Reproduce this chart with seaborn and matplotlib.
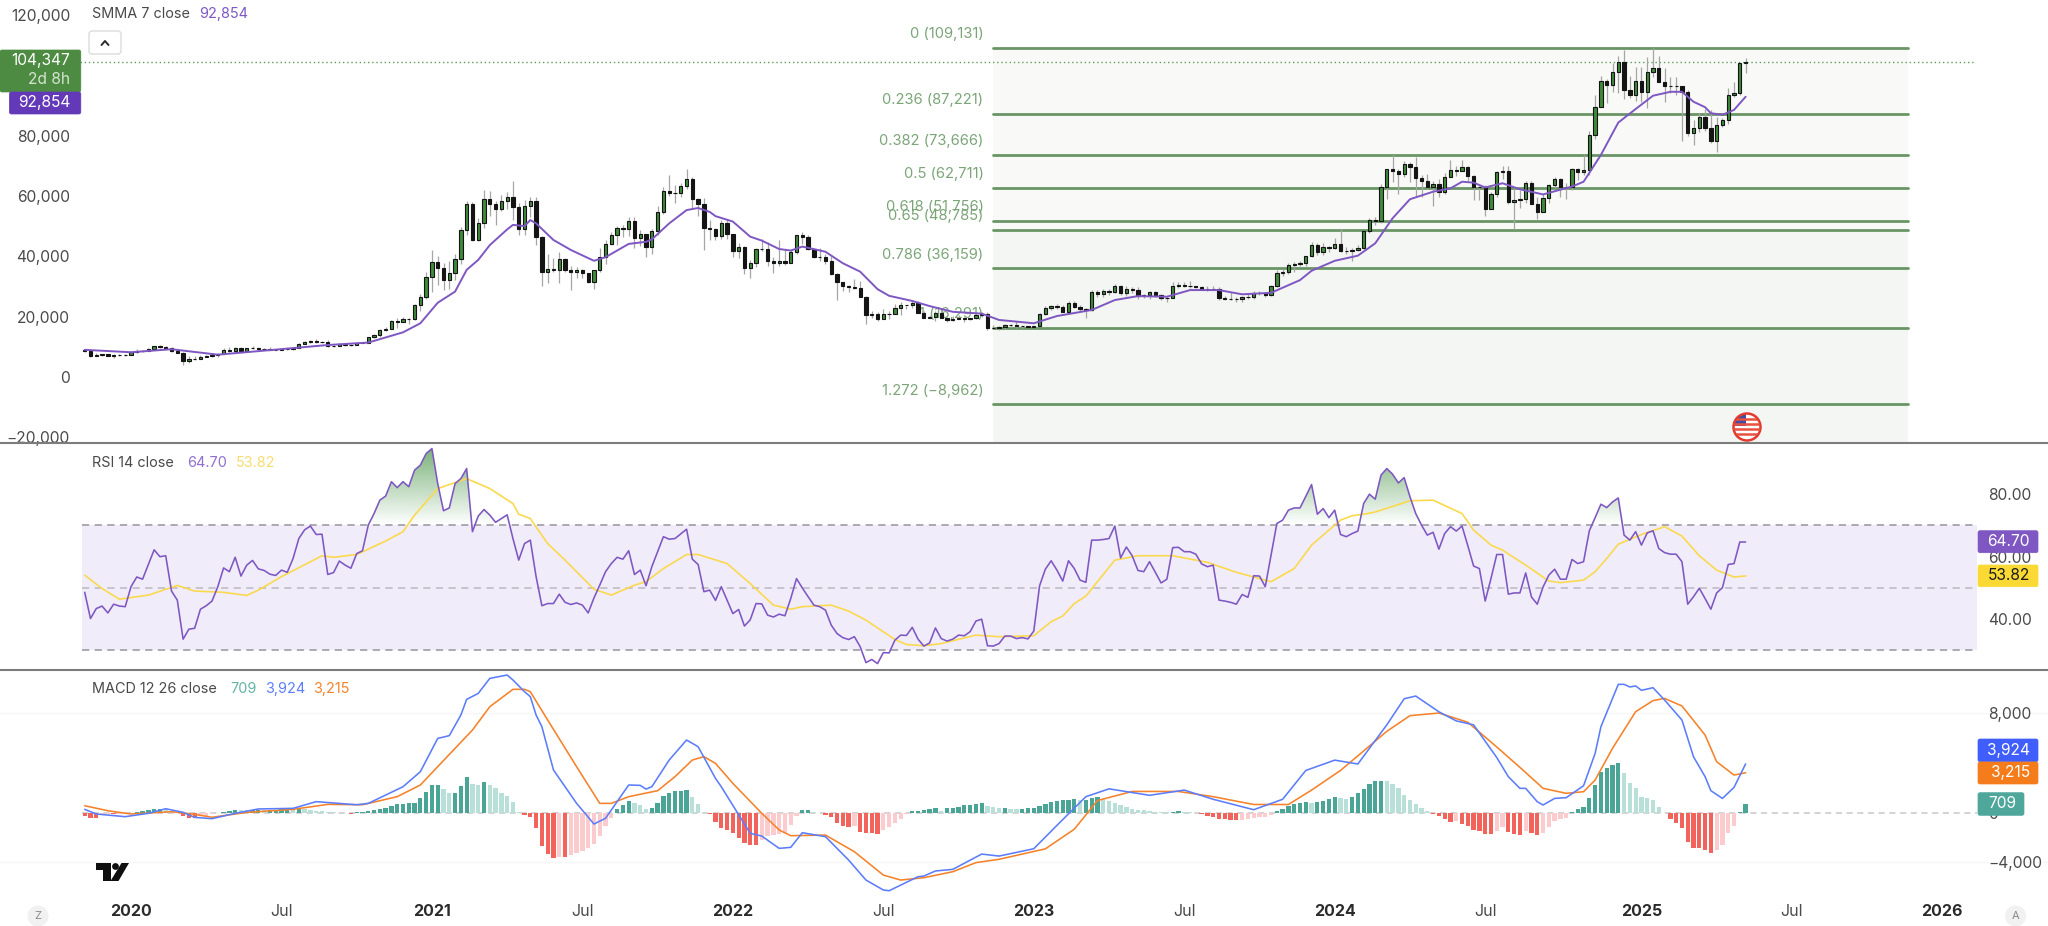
import numpy as np
import pandas as pd
import seaborn as sns
import matplotlib
matplotlib.use('Agg')
import matplotlib.pyplot as plt
import matplotlib.dates as mdates
from matplotlib.patches import Rectangle, Circle, Polygon, FancyBboxPatch
from matplotlib.path import Path

# weekly candles in thousands of USD, first week 2019-11-11
first_open = 9.04
close_2019 = [8.5, 7.05, 7.4, 7.5, 7.1, 7.15, 7.25, 7.35]
high_2019 = [9.3, 8.6, 7.85, 7.75, 7.6, 7.5, 7.7, 7.5]
low_2019 = [8.35, 6.6, 6.85, 7.1, 7.05, 6.45, 7.1, 6.85]
close_2020 = [8.18, 8.7, 8.6, 9.3, 10.15, 9.9, 9.66, 8.55, 8.03, 5.2, 5.82, 5.88, 6.78, 6.86, 7.13, 7.54, 8.87,
              8.72, 9.68, 8.73, 9.45, 9.47, 9.32, 9.29, 9.01, 9.07, 9.3, 9.16, 9.7, 11.06, 11.64, 11.85, 11.65,
              11.7, 10.25, 10.33, 10.92, 10.73, 10.67, 11.3, 11.36, 13.11, 13.76, 15.48, 15.96, 18.68, 18.2,
              19.15, 19.17, 23.85, 26.44, 33.0]
high_2020 = [8.45, 9.2, 8.9, 9.55, 10.18, 10.5, 10.3, 9.95, 9.2, 8.2, 6.95, 6.95, 7.2, 7.45, 7.3, 7.8, 9.45,
             10.05, 9.93, 9.9, 9.75, 10.4, 10.0, 9.65, 9.8, 9.3, 9.45, 9.35, 9.8, 11.4, 11.9, 12.1, 12.5,
             11.8, 12.1, 10.5, 11.2, 10.95, 10.95, 11.5, 11.75, 13.35, 14.1, 15.96, 16.45, 18.95, 19.4,
             19.9, 19.5, 24.25, 27.4, 34.8]
low_2020 = [7.3, 8.0, 8.25, 8.5, 9.1, 9.75, 9.3, 8.4, 8.0, 3.85, 4.5, 5.7, 5.85, 6.7, 6.6, 6.75, 7.5,
            8.2, 8.2, 8.7, 8.65, 9.3, 9.1, 8.9, 8.8, 8.9, 9.1, 9.0, 9.1, 9.7, 11.0, 11.15, 11.4,
            11.1, 9.9, 9.85, 10.2, 10.15, 10.4, 10.5, 11.2, 11.4, 12.8, 13.2, 15.1, 15.8, 16.2,
            18.2, 17.6, 19.0, 21.9, 26.0]
close_2021 = [38.15, 36.0, 32.09, 34.3, 39.19, 48.6, 57.4, 45.24, 50.97, 59.0, 57.4, 55.8, 58.3, 59.7, 56.4, 49.1,
              56.6, 58.2, 46.4, 34.8, 35.7, 35.5, 39.1, 35.6, 34.7, 35.3, 34.4, 31.6, 35.5, 39.7, 44.0, 47.0,
              49.3, 49.0, 51.8, 46.0, 47.3, 43.2, 48.3, 54.7, 61.5, 60.9, 61.0, 63.3, 65.5, 58.9, 57.3, 49.5,
              49.2, 46.7, 50.9, 47.4]
high_2021 = [42, 40.1, 37.8, 38.5, 40.9, 49.7, 58.4, 58.0, 52.6, 61.8, 61.7, 58.4, 60.2, 61.2, 64.9, 57.5,
             58.5, 59.5, 59.6, 46.6, 40.8, 39.5, 41.3, 39.5, 36.7, 36.6, 35.9, 34.6, 35.6, 42.6, 45.3, 48.1,
             49.9, 50.5, 52.9, 53.0, 48.8, 47.4, 49.2, 56.6, 62.9, 67.0, 63.7, 64.3, 69.0, 66.3, 59.4, 59.2,
             51.9, 49.5, 51.9, 52.1]
low_2021 = [28, 30.4, 28.8, 29.2, 32.3, 37.4, 47, 44.9, 45, 49.3, 53.3, 50.4, 55, 55.5, 52, 47,
            47, 53, 43.9, 30, 31.1, 34.8, 31, 34.9, 28.8, 32.7, 32.7, 31, 29.3, 34.9, 37.4, 43.8,
            43.9, 46.4, 46.6, 42.8, 43.4, 39.6, 40.8, 47.1, 54, 59.9, 57.8, 59.5, 62.3, 55.6, 53.5, 42,
            45.5, 45.5, 45.6, 45.6]
close_2022 = [41.9, 43.1, 36.2, 37.9, 42.4, 42.3, 38.4, 37.7, 38.4, 37.8, 41.3, 46.9, 46.3, 42.3, 39.9, 39.6, 38.5,
              34.0, 31.4, 30.2, 29.7, 29.6, 26.6, 20.6, 21.0, 19.3, 20.8, 21.0, 22.8, 23.9, 23.9, 24.4, 21.3,
              19.6, 19.9, 21.2, 19.6, 18.9, 19.2, 19.4, 19.3, 19.4, 20.6, 21.0, 16.1, 16.3, 16.5, 17.1,
              17.1, 16.8, 16.8, 16.6]
high_2022 = [47.5, 44.4, 43.5, 38.9, 42.6, 45.8, 44.7, 39.9, 45.4, 42.5, 42.3, 47, 48.2, 47, 41.5, 42.9, 40.8,
             40, 34.3, 31.4, 30.6, 32.4, 31.7, 26.9, 22, 21.5, 22.4, 21.9, 24.3, 24.7, 23.4, 25.2, 25.2,
             21.8, 20.5, 21.8, 22.8, 19.9, 20.2, 20.5, 20, 19.7, 21, 21.5, 21.5, 17.2, 16.8, 17.4,
             17.4, 18.4, 17, 16.9]
low_2022 = [39.6, 39.3, 34, 32.9, 36.3, 41.7, 36.8, 34.3, 36.8, 37.2, 37.7, 40.9, 44.2, 42.1, 39.3, 38.5, 37.6,
            33.7, 25.4, 28.6, 28, 29.3, 26.6, 17.6, 19.6, 18.6, 19.3, 19.2, 20.8, 20.7, 22.5, 22.7, 21.3,
            19.5, 19.5, 18.5, 19.4, 18.1, 18.5, 19.1, 18.2, 18.9, 19.2, 20, 15.6, 15.8, 15.5, 16,
            16.7, 16.3, 16.3, 16.3]
close_2023 = [16.9, 20.9, 22.7, 23.4, 23.3, 21.6, 24.5, 23.2, 22.4, 22.2, 28.3, 27.5, 28.4, 28.3, 30.2, 27.7, 29.2,
              28.8, 26.9, 27.1, 28.1, 27.1, 26.1, 26.3, 30.3, 30.5, 30.2, 30.3, 29.9, 29.3, 29.0, 29.3, 26.1,
              26.0, 25.9, 25.9, 26.5, 26.5, 27.9, 27.9, 27.2, 30.0, 34.5, 34.7, 37.1, 37.4, 37.7, 40.0,
              43.6, 41.3, 43.1, 42.6]
high_2023 = [17.0, 21.3, 23.4, 23.8, 24.2, 23.9, 25.2, 25.3, 23.9, 22.8, 28.9, 28.9, 29.2, 29.0, 30.9, 30.5, 30.0,
             29.8, 29.8, 27.6, 28.4, 28.5, 27.4, 26.8, 31.4, 31.4, 31.4, 31.8, 30.3, 30.3, 30.0, 30.2, 29.7,
             26.8, 28.1, 26.4, 26.9, 27.4, 28.6, 28.6, 28.3, 30.4, 35.3, 35.9, 37.9, 38.0, 38.4, 40.2,
             44.7, 44.4, 44.3, 43.5]
low_2023 = [16.5, 17.2, 20.4, 22.3, 22.5, 21.5, 21.4, 22.8, 21.9, 19.6, 21.9, 26.6, 26.5, 27.2, 27.8, 27.1, 26.9,
            27.7, 26.0, 26.3, 26.0, 26.6, 25.4, 24.8, 26.3, 29.5, 29.9, 29.5, 29.6, 29.1, 28.6, 28.7, 25.4,
            25.4, 25.4, 24.9, 25.0, 26.0, 26.0, 27.2, 26.5, 26.8, 29.8, 33.4, 34.1, 34.8, 36.8, 36.7,
            39.9, 40.5, 40.5, 41.5]
close_2024 = [44.0, 41.7, 41.8, 42.0, 42.8, 48.3, 52.0, 51.7, 62.9, 69.0, 68.4, 67.2, 70.5, 69.5, 65.8, 64.9, 63.0,
              64.0, 61.4, 66.3, 68.6, 68.3, 69.5, 66.6, 63.0, 62.8, 55.8, 60.7, 68.0, 68.3, 58.1, 58.6, 59.0,
              64.2, 57.3, 54.8, 59.2, 63.5, 65.5, 62.9, 62.9, 69.0, 68.0, 68.5, 80.3, 89.6, 98.0, 96.6,
              101.2, 104.3, 95.1, 93.5, 98.2]
high_2024 = [45.9, 49.1, 43.2, 42.8, 43.9, 48.5, 52.8, 52.9, 64.0, 69.0, 73.7, 68.9, 71.6, 71.3, 72.8, 66.9, 67.2,
             64.8, 65.5, 67.5, 71.9, 70.0, 71.9, 70.0, 66.9, 63.3, 63.7, 61.3, 68.4, 69.9, 70.0, 62.7, 61.8,
             65.0, 65.0, 59.8, 60.6, 64.1, 66.4, 66.0, 64.4, 69.4, 69.4, 73.6, 81.5, 93.4, 99.8, 98.9,
             104.1, 106.5, 108.3, 99.9, 102.7]
low_2024 = [42.5, 41.5, 40.6, 38.5, 41.9, 42.3, 47.7, 50.5, 50.9, 59.0, 64.5, 60.8, 66.4, 64.6, 59.9, 59.7, 62.4,
            56.5, 59.6, 60.7, 66.6, 66.7, 68.4, 64.9, 58.6, 58.5, 53.5, 56.0, 59.6, 65.5, 57.3, 49.1, 56.1,
            57.8, 57.2, 52.5, 54.6, 57.5, 62.7, 59.8, 58.9, 62.0, 65.3, 66.8, 66.8, 78.9, 89.4, 90.8,
            94.5, 94.2, 92.2, 92.5, 91.3]
close_2025 = [94.4, 101.2, 102.5, 97.6, 96.5, 96.4, 96.3, 94.3, 80.7, 82.5, 86.0, 82.4, 78.3, 83.6, 85.2, 93.5, 94.2,
              103.9, 104.347]
high_2025 = [102.6, 106.0, 109.1, 106.5, 102.5, 99.5, 99.5, 96.2, 95.0, 85.3, 87.5, 88.8, 88.5, 86.2, 85.9, 95.7,
             97.9, 104.2, 105.8]
low_2025 = [91.2, 89.2, 99.5, 97.7, 91.2, 94.1, 93.4, 78.1, 80.0, 77.0, 81.2, 81.6, 77.4, 74.7, 83.0, 83.9, 92.8,
            93.4, 100.7]

# SMMA 7, read at the bends of the line (week number from the first candle)
smma_week = [0, 8, 15, 23, 32, 42, 49, 55, 58, 61, 64, 66, 68, 70, 73, 74, 76, 77, 78, 81, 84, 88, 90, 94, 97, 98,
             101, 104, 106, 108, 109, 112, 115, 117, 120, 122, 124, 125, 128, 131, 134, 137, 139, 143, 146, 150,
             155, 158, 164, 168, 174, 178, 182, 187, 191, 196, 200, 205, 210, 212, 216, 220, 223, 226, 229, 233,
             236, 238, 240, 242, 245, 248, 252, 257, 259, 262, 265, 268, 271, 274, 276, 278, 280, 281, 283, 285, 287]
smma_val = [9.0, 8.2, 9.2, 7.4, 8.9, 10.6, 11.4, 14.8, 17.8, 24.6, 28.3, 35.5, 38.8, 43.7, 48.9, 50.4, 50.0, 52.0,
            50.9, 45.4, 42.1, 38.5, 39.7, 44.1, 44.8, 45.6, 50.9, 55.3, 56.0, 54.7, 53.3, 51.5, 46.5, 45.2, 42.4,
            41.9, 43.2, 42.8, 41.5, 37.7, 34.9, 29.1, 26.9, 25.2, 23.5, 21.6, 21.0, 18.9, 17.8, 20.2, 22.2, 25.5,
            26.8, 26.6, 28.8, 28.8, 27.4, 27.9, 32.1, 35.2, 38.5, 40.2, 44.3, 52.6, 58.9, 61.4, 62.5, 64.7, 64.4,
            62.8, 64.2, 62.2, 60.5, 63.1, 64.7, 73.6, 84.3, 88.8, 93.2, 94.5, 94.5, 91.2, 89.4, 87.4, 86.9, 88.5, 92.854]

rsi_val = [48.6, 40.2, 43.4, 44.2, 42, 44.8, 44.2, 44, 50.4, 53.5,
           52.8, 57.5, 62.2, 60, 60.3, 49, 46.1, 33.6, 36.8, 37.1,
           43.2, 44.3, 45.8, 50.4, 56.4, 55.2, 59.8, 53.8, 57.3, 58.8,
           56.1, 55.6, 54.4, 54, 55.7, 55, 59.4, 65.8, 68.6, 69.8,
           67.1, 67.2, 54.3, 54.9, 58.6, 57.3, 56.3, 61, 61.9, 70.1,
           73.8, 78.1, 79.4, 84, 82.1, 84, 82.4, 87.7, 89.3, 93,
           94.6, 83.4, 74.7, 75.6, 83.4, 85, 88.2, 68, 73, 75.1,
           73.3, 71, 72.2, 73.4, 65.8, 58.9, 64.2, 65.3, 53.6, 44.3,
           45, 45, 48, 45.4, 44.7, 45.2, 44.5, 42, 46.8, 50.9,
           55.2, 57.8, 59.8, 59.2, 61.9, 54.3, 55.7, 50.7, 56.8, 61.6,
           66.4, 65.6, 65.8, 67.3, 68.8, 59.2, 57.5, 48.8, 49.3, 46,
           50.4, 46.1, 41.8, 43.1, 37.8, 39.8, 45, 44.9, 41.3, 40.7,
           41.6, 41.1, 46.6, 53, 50, 47.2, 44.5, 44, 42.9, 38.1,
           35.4, 34.1, 33.5, 34.4, 31.2, 26.1, 27.1, 25.8, 29.3, 29.2,
           33.3, 34.9, 34.8, 37.4, 33.6, 31.4, 32.4, 37.2, 33.8, 33,
           33.6, 34.9, 34.7, 36, 39.4, 40, 31.5, 31.4, 32.2, 34.6,
           34.6, 33.8, 34.1, 33.7, 36.2, 50.7, 56, 58.7, 55.7, 52.2,
           58.7, 56.2, 52.5, 51.8, 65.3, 65.3, 65.5, 65.8, 69.8, 59.6,
           63.1, 60.3, 55.6, 55.2, 58.4, 55, 51.6, 52.8, 62.9, 63,
           61.6, 61.6, 60.8, 57.7, 56.8, 57.3, 46.1, 45.8, 45.4, 44.8,
           47.9, 47, 53.9, 53.8, 50.4, 60.5, 70.6, 71.7, 74.9, 75.6,
           75.6, 79.3, 83.1, 73.6, 75.4, 72.5, 74.9, 67.1, 66.4, 67.4,
           68.2, 77, 80, 78.4, 86.1, 88.2, 86.4, 83.6, 85.3, 79.2,
           73.8, 70.1, 66.9, 67.8, 62.4, 67.4, 69.6, 68.2, 69.8, 63.5,
           57, 56.2, 45.8, 53, 60.7, 60.7, 48, 48.4, 48.4, 54.8,
           47.1, 44.8, 50.3, 54.1, 56, 52.8, 52.8, 59.1, 57.8, 58.4,
           68.3, 72.5, 76.8, 75.7, 77.5, 78.8, 66.9, 65.3, 68, 63.7,
           67.6, 68.3, 62.6, 61.3, 60.8, 60.8, 58.4, 44.8, 47.2, 49.9,
           46.6, 43.2, 48.4, 50.1, 57.5, 57.8, 64.7, 64.7]

rsi_ma_week = [0, 3, 6, 11, 16, 19, 24, 28, 30, 34, 41, 43, 47, 52, 55, 57, 61, 66, 70, 74, 75, 77, 80, 83, 88, 91, 95,
               97, 100, 104, 106, 111, 115, 119, 122, 124, 129, 132, 135, 140, 142, 145, 148, 154, 158, 164, 167, 169,
               171, 173, 178, 182, 188, 194, 199, 205, 209, 212, 217, 219, 221, 223, 229, 233, 238, 240, 243, 245, 249,
               253, 255, 259, 261, 263, 265, 269, 273, 276, 279, 282, 285, 287]
rsi_ma_val = [54.1, 49.8, 46.4, 47.7, 50.8, 49, 48.6, 47.6, 49.3, 53.6, 60.3, 59.8, 60.7, 65, 68, 73.3, 81.8, 85, 81.8,
              77, 73.6, 72.2, 64.2, 58.9, 49.6, 47.7, 50.9, 52, 56.2, 60.7, 60.7, 57.8, 51.4, 44.5, 43.2, 44, 44.5,
              42.6, 39.7, 33.5, 31.9, 31.5, 32.2, 34.9, 34.4, 34.7, 39.2, 41, 45, 47.4, 58.9, 60.3, 60.3, 58.2, 55,
              52, 56.2, 63.7, 71.7, 73.1, 73.6, 74.3, 77.9, 78.1, 73.8, 68.5, 63.7, 62.1, 57.3, 52.2, 51.7, 52.5,
              55.2, 59.4, 64, 67.1, 69.6, 66.6, 60.3, 55.7, 53.5, 53.82]

macd_week = [0, 2, 7, 11, 14, 17, 19, 22, 26, 30, 36, 40, 47, 49, 55, 58, 61, 63, 65, 66, 68, 70, 73, 74, 76, 77, 78,
             79, 81, 85, 88, 90, 94, 96, 97, 98, 101, 104, 106, 109, 110, 115, 117, 120, 122, 124, 128, 132, 135, 138,
             139, 144, 145, 147, 150, 155, 158, 164, 168, 173, 177, 184, 190, 195, 202, 207, 211, 216, 220, 225, 228,
             230, 234, 237, 240, 244, 246, 248, 249, 251, 252, 254, 256, 259, 261, 262, 265, 266, 267, 268, 269, 271,
             273, 276, 278, 280, 281, 283, 285, 287]
macd_val = [270, -105, -320, -50, 320, 30, -375, -480, -50, 300, 350, 890, 640, 750, 2090, 3300, 5980, 6200, 7860, 9120,
            9600, 10810, 11080, 10680, 9740, 9340, 7860, 6920, 3440, 750, -910, -450, 2230, 2200, 1900, 2090, 4240,
            5850, 5310, 2760, 2090, -1660, -1880, -2870, -2790, -1610, -1930, -3810, -5420, -6220, -6280, -5150, -5100,
            -4690, -4560, -3330, -3490, -2900, -1020, 1290, 1920, 1400, 1820, 1080, 240, 1080, 3400, 4230, 3920, 7070,
            9170, 9390, 8120, 7390, 7070, 4440, 2900, 1960, 1960, 885, 620, 1150, 1210, 2170, 4780, 6920, 10330, 10330,
            10120, 10200, 9850, 10060, 9070, 7460, 4500, 2900, 1770, 1150, 2040, 3924]
signal_week = [0, 4, 8, 15, 19, 22, 28, 36, 42, 48, 54, 58, 64, 67, 70, 74, 76, 77, 80, 85, 89, 91, 94, 99, 102, 105, 107,
               109, 112, 117, 120, 122, 128, 133, 138, 141, 145, 150, 154, 158, 166, 171, 175, 181, 189, 195, 202, 208,
               212, 217, 221, 225, 229, 234, 239, 244, 248, 252, 256, 259, 261, 264, 268, 271, 273, 276, 280, 282, 285, 287]
signal_val = [560, 160, -105, 80, -130, -370, 25, 270, 670, 640, 1290, 2230, 5180, 6650, 8530, 9930, 9930, 9740, 7460, 3700,
              750, 750, 1290, 1770, 2900, 4240, 4510, 3970, 2360, -50, -1390, -1850, -1800, -3140, -5020, -5420, -5230,
              -4750, -4020, -3750, -2910, -1330, 980, 1710, 1710, 1290, 660, 660, 1820, 3400, 4970, 6550, 7810, 8020, 7280,
              5290, 3650, 1960, 1560, 1690, 2630, 5180, 8130, 9020, 9200, 8590, 6250, 4100, 3030, 3215]
hist_val = [-290, -430, -430, -200, -130, -130, -110, -90, -40, 40,
            100, 200, 290, 290, 260, 130, -50, -290, -400, -400,
            -300, -230, -130, -30, 70, 130, 240, 230, 200, 220,
            240, 200, 230, 250, 320, 350, 300, 340, 270, 180,
            140, 100, 50, 20, -10, 10, -130, 40, 60, 120,
            200, 270, 400, 560, 670, 700, 750, 800, 1150, 1690,
            2230, 2240, 1930, 1560, 1610, 2150, 2900, 2330, 2230, 2440,
            2200, 1960, 1560, 1340, 860, 50, -215, -375, -1260, -2660,
            -3330, -3620, -3540, -3540, -3400, -3220, -3060, -2870, -2550, -1880,
            -1070, -450, 300, 620, 940, 750, 590, 270, 350, 800,
            1370, 1610, 1720, 1770, 1850, 1230, 700, -30, -130, -720,
            -1260, -1400, -1660, -2070, -2410, -2600, -2620, -2200, -1850, -1800,
            -1720, -1610, -990, -270, 210, 210, 50, -50, -160, -320,
            -800, -1050, -1180, -1100, -1530, -1610, -1660, -1720, -1400, -1130,
            -860, -540, -110, 130, 160, 210, 300, 350, 160, 400,
            400, 480, 590, 620, 700, 780, 540, 456, 400, 400,
            320, 280, 300, 340, 390, 560, 720, 860, 960, 1020,
            1060, 1100, 1000, 1050, 1200, 1260, 1130, 960, 760, 600,
            430, 330, 230, 180, 120, 90, 60, 30, 90, 110,
            70, 30, -30, -120, -240, -380, -480, -540, -590, -620,
            -570, -500, -420, -370, -310, -190, 120, 330, 540, 690,
            760, 870, 800, 830, 950, 1100, 1230, 1210, 1130, 1250,
            1550, 1900, 2300, 2520, 2570, 2550, 2350, 1950, 1450, 1050,
            720, 400, 100, -100, -300, -480, -720, -680, -900, -1100,
            -1400, -1500, -1700, -1750, -1500, -1130, -1530, -1720, -1820, -1450,
            -1610, -1820, -1610, -1130, -640, -510, -400, 50, 270, 430,
            1210, 2230, 3250, 3570, 3840, 4020, 3220, 2410, 1990, 1230,
            1150, 1020, 480, -50, -540, -800, -1210, -2330, -2870, -2870,
            -3000, -3270, -3000, -2600, -1660, -1050, 30, 709]

fib_ratio = ['0', '0.236', '0.382', '0.5', '0.618', '0.65', '0.786', '1', '1.272']
fib_price = [109131, 87221, 73666, 62711, 51756, 48785, 36159, 16291, -8962]
price_ticks = [-20000, 0, 20000, 40000, 60000, 80000, 100000, 120000]
rsi_ticks = [40, 60, 80]
macd_ticks = [-4000, 0, 8000]
date_ticks = ['2020-01-06', '2020-07-06', '2021-01-04', '2021-07-05', '2022-01-03', '2022-07-04', '2023-01-02',
              '2023-07-03', '2024-01-01', '2024-07-01', '2025-01-06', '2025-07-07', '2026-01-05']
date_labels = ['2020', 'Jul', '2021', 'Jul', '2022', 'Jul', '2023', 'Jul', '2024', 'Jul', '2025', 'Jul', '2026']

PURPLE = '#7e57c2'
YELLOW = '#fbd94e'
BLUE = '#5c7dfb'
ORANGE = '#f5822a'
INK = '#4a4a4a'
W, H = 2048, 926


def minus(text):
    return text.replace('-', '\u2212')


def rsi_gradient(ax, x, y, level, top, rgb, max_alpha):
    # value based fade, clipped to the area between the line and the level
    y = np.asarray(y)
    where = y > level if top > level else y < level
    poly = ax.fill_between(x, level, y, where=where, interpolate=True, color='none', linewidth=0)
    clip = Path.make_compound_path(*poly.get_paths())
    rows = np.linspace(0, 1, 128).reshape(-1, 1)
    rgba = np.zeros((128, 1, 4))
    rgba[..., :3] = matplotlib.colors.to_rgb(rgb)
    rgba[..., 3] = rows * max_alpha
    lo, hi = min(level, top), max(level, top)
    if top < level:
        rgba = rgba[::-1]
    im = ax.imshow(rgba, origin='lower', aspect='auto', extent=[x[0], x[-1], lo, hi], zorder=1)
    im.set_clip_path(clip, transform=ax.transData)


sns.set_theme(style='white')
plt.rcParams['font.family'] = ['Inter', 'DejaVu Sans']
plt.rcParams['axes.unicode_minus'] = True

closes = np.array(close_2019 + close_2020 + close_2021 + close_2022 + close_2023 + close_2024 + close_2025) * 1000
highs = np.array(high_2019 + high_2020 + high_2021 + high_2022 + high_2023 + high_2024 + high_2025) * 1000
lows = np.array(low_2019 + low_2020 + low_2021 + low_2022 + low_2023 + low_2024 + low_2025) * 1000
opens = np.r_[first_open * 1000, closes[:-1]]
assert len(closes) == 288 and len(highs) == 288 and len(lows) == 288
assert len(rsi_val) == 288 and len(hist_val) == 288
assert len(smma_week) == len(smma_val) and len(rsi_ma_week) == len(rsi_ma_val)
assert len(macd_week) == len(macd_val) and len(signal_week) == len(signal_val)

weeks = mdates.date2num(pd.date_range('2019-11-11', periods=288, freq='7D'))
up = closes >= opens

fig = plt.figure(figsize=(W / 100, H / 100), dpi=100, facecolor='white')


def panel(top, bottom):
    ax = fig.add_axes([0, 1 - bottom / H, 1, (bottom - top) / H])
    ax.set_facecolor('none')
    for s in ax.spines.values():
        s.set_visible(False)
    ax.set_xlim(mdates.date2num(pd.Timestamp('2020-01-06')) - 131 / 0.82673,
                mdates.date2num(pd.Timestamp('2020-01-06')) + (W - 131) / 0.82673)
    ax.tick_params(axis='both', length=0)
    ax.grid(False)
    return ax


# price panel
ax_p = panel(0, 443)
ax_p.set_ylim(-21870, 124917)
fx0, fx1 = 992.7 / W, 1908 / W
band_edges = fib_price + [-21870]
for j in range(len(band_edges) - 1):
    ax_p.axhspan(band_edges[j + 1], band_edges[j], xmin=fx0, xmax=fx1, lw=0,
                 color='#f9faf8' if j < 5 else '#f4f6f3', zorder=0)
for ratio, price in zip(fib_ratio, fib_price):
    ax_p.axhline(price, xmin=fx0, xmax=fx1, color='#6a9566', lw=2.0, zorder=1)
    ax_p.annotate(minus(f'{ratio} ({price:,})'), xy=(983.5 / W, price), xycoords=ax_p.get_yaxis_transform(),
                  xytext=(0, 9.6), textcoords='offset points', ha='right', va='center',
                  color='#7ba578', fontsize=10.6, zorder=1)
ax_p.axhline(closes[-1], xmin=80 / W, xmax=1975 / W, color='#5f9c5a', lw=1.0, ls=(0, (1, 2)), zorder=1)
ax_p.vlines(weeks, lows, highs, color='#a6a6a6', lw=0.9, zorder=3)
ax_p.bar(weeks, closes - opens, bottom=opens, width=4.0, color=np.where(up, '#3f8a3a', '#141414'),
         edgecolor='#141414', linewidth=0.8, zorder=4)
sns.lineplot(x=weeks[smma_week], y=np.array(smma_val) * 1000, color=PURPLE, lw=1.4, estimator=None,
             ax=ax_p, zorder=5)
ax_p.set_yticks(price_ticks)
ax_p.set_yticklabels([minus(f'{v:,}') for v in price_ticks], color=INK, fontsize=11.2)
ax_p.tick_params(axis='y', pad=-50.4)
ax_p.set_xticks([])
ax_p.set_xlabel('')
ax_p.set_ylabel('')

# RSI panel
ax_r = panel(443, 670)
ax_r.set_ylim(23.74, 96.38)
bx0, bx1 = 81.6 / W, 1977 / W
ax_r.axhspan(30, 70, xmin=bx0, xmax=bx1, color='#f0ecf9', lw=0, zorder=0)
rsi_gradient(ax_r, weeks, rsi_val, 70, 100, '#3f8f3f', 0.85)
rsi_gradient(ax_r, weeks, rsi_val, 30, 0, '#e57373', 0.6)
ax_r.set_xlim(ax_p.get_xlim())
ax_r.set_ylim(23.74, 96.38)
for level, tone in zip([70, 50, 30], ['#a5a2ab', '#c3c0c9', '#a5a2ab']):
    ax_r.axhline(level, xmin=bx0, xmax=bx1, color=tone, lw=1.3, ls=(0, (4, 3)), zorder=2)
sns.lineplot(x=weeks[rsi_ma_week], y=rsi_ma_val, color=YELLOW, lw=1.2, estimator=None, ax=ax_r, zorder=3)
sns.lineplot(x=weeks, y=rsi_val, color=PURPLE, lw=1.15, estimator=None, ax=ax_r, zorder=4)
ax_r.set_yticks(rsi_ticks)
ax_r.set_yticklabels([f'{v:.2f}' for v in rsi_ticks], color=INK, fontsize=11.2)
ax_r.yaxis.tick_right()
ax_r.tick_params(axis='y', pad=-43.2, length=0)
ax_r.set_xticks([])
ax_r.set_xlabel('')
ax_r.set_ylabel('')

# MACD panel
ax_m = panel(670, 900)
ax_m.set_ylim(-7026, 11485)
for level in [8000, -4000]:
    ax_m.axhline(level, color='#f6f6f6', lw=1, zorder=0)
ax_m.axhline(0, xmin=bx0, xmax=bx1, color='#c8c8c8', lw=1.1, ls=(0, (4, 3)), zorder=1)
hist = np.array(hist_val, dtype=float)
prev = np.r_[hist[0], hist[:-1]]
hist_kind = np.where(hist >= 0, np.where(hist >= prev, 'up', 'up_fade'), np.where(hist <= prev, 'down', 'down_fade'))
sns.barplot(x=weeks, y=hist, hue=hist_kind, native_scale=True, dodge=False, width=0.74, legend=False, saturation=1,
            linewidth=0, palette={'up': '#4ba596', 'up_fade': '#b9dfd9', 'down': '#f2635c', 'down_fade': '#fccbcd'},
            ax=ax_m, zorder=2)
sns.lineplot(x=weeks[signal_week], y=signal_val, color=ORANGE, lw=1.15, estimator=None, ax=ax_m, zorder=3)
sns.lineplot(x=weeks[macd_week], y=macd_val, color=BLUE, lw=1.15, estimator=None, ax=ax_m, zorder=4)
ax_m.set_xlim(ax_p.get_xlim())
ax_m.set_ylim(-7026, 11485)
ax_m.set_yticks(macd_ticks)
ax_m.set_yticklabels([minus(f'{v:,}') for v in macd_ticks], color=INK, fontsize=11.2)
ax_m.yaxis.tick_right()
ax_m.tick_params(axis='y', pad=-43.2, length=0)
ax_m.set_xticks(mdates.date2num(pd.to_datetime(date_ticks)))
ax_m.set_xticklabels(date_labels, fontsize=11.5, color='#2b2b2b')
for tl, name in zip(ax_m.get_xticklabels(), date_labels):
    if name != 'Jul':
        tl.set_fontweight('bold')
    else:
        tl.set_color(INK)
ax_m.tick_params(axis='x', pad=3.0, length=0)
ax_m.set_xlabel('')
ax_m.set_ylabel('')

# overlay in pixels for the tags, legends and logo
ov = fig.add_axes([0, 0, 1, 1], zorder=10)
ov.set_xlim(0, W)
ov.set_ylim(H, 0)
ov.axis('off')
ov.patch.set_alpha(0)
for y in [443, 670]:
    ov.plot([0, W], [y, y], color='#7c7c7c', lw=1.5)


def tag(x0, y0, x1, y1, color, text, tx=None, ha='right', tc='white'):
    ov.add_patch(FancyBboxPatch((x0 + 1, y0 + 1), x1 - x0 - 2, y1 - y0 - 2, boxstyle='round,pad=1,rounding_size=2',
                                fc=color, ec=color, lw=0.5))
    ov.text(tx if tx else x1 - 8, (y0 + y1) / 2, text, color=tc, ha=ha, va='center', fontsize=11.2)


tag(0, 50, 80.8, 92, '#4c8b41', '', tx=70)
ov.text(70.5, 61, f'{closes[-1]:,.0f}', color='white', ha='right', va='center', fontsize=11.2)
ov.text(70.5, 80, '2d 8h', color='#d5e5d2', ha='right', va='center', fontsize=11.2)
tag(9.4, 92, 80.8, 114, '#6439b8', f'{smma_val[-1] * 1000:,.0f}', tx=70.5)
tag(1978, 530.7, 2038, 552.7, '#7e57c2', f'{rsi_val[-1]:.2f}', tx=2030)
tag(1978, 565, 2038, 586.7, '#fbd934', f'{rsi_ma_val[-1]:.2f}', tx=2030, tc='#1a1a1a')
tag(1978, 739, 2038, 761.7, '#3f5efb', f'{macd_val[-1]:,}', tx=2030)
tag(1978, 762, 2038, 784, '#f57c1a', f'{signal_val[-1]:,}', tx=2030)
tag(1978, 792.7, 2024, 815.3, '#4fa79b', f'{hist_val[-1]:,}', tx=1988, ha='left')


def legend(y, title, parts):
    ov.text(92, y, title, color=INK, ha='left', va='center', fontsize=10.4)
    for x, text, color in parts:
        ov.text(x, y, text, color=color, ha='left', va='center', fontsize=10.4)


legend(14, 'SMMA 7 close', [(199.5, f'{smma_val[-1] * 1000:,.0f}', PURPLE)])
legend(462.7, 'RSI 14 close', [(186.7, f'{rsi_val[-1]:.2f}', '#8f6fd0'), (235.7, f'{rsi_ma_val[-1]:.2f}', '#f7dc6f')])
legend(689.3, 'MACD 12 26 close', [(230.6, f'{hist_val[-1]}', '#65b3a6'), (265, f'{macd_val[-1]:,}', BLUE),
                                   (312.8, f'{signal_val[-1]:,}', ORANGE)])

# collapse button
ov.add_patch(FancyBboxPatch((90, 32), 30, 21, boxstyle='round,pad=1,rounding_size=3', fc='white', ec='#dcdcdc', lw=1))
ov.plot([101.5, 105, 108.5], [45, 41, 45], color='#2a2a2a', lw=1.4)

# TradingView logo
ov.add_patch(Polygon([(96, 863), (111, 863), (111, 881), (103, 881), (103, 870), (96, 870)], fc='#0f0f0f', ec='none'))
ov.add_patch(Circle((115.5, 866.5), 3.4, fc='#0f0f0f', ec='none'))
ov.add_patch(Polygon([(121.5, 863), (129, 863), (118.5, 881), (110.5, 881)], fc='#0f0f0f', ec='none'))

# event flag
fx, fy = 1747, 427
flag = Circle((fx, fy), 13, fc='white', ec='none')
ov.add_patch(flag)
for dy in [-8, -3, 2, 7]:
    ln, = ov.plot([fx - 13, fx + 13], [fy + dy, fy + dy], color='#e8503f', lw=1.8)
    ln.set_clip_path(flag)
canton = Rectangle((fx - 13, fy - 13), 12, 12, fc='#3f4fa8', ec='none')
ov.add_patch(canton)
canton.set_clip_path(flag)
ov.add_patch(Circle((fx, fy), 13.5, fc='none', ec='#e23b2e', lw=1.8))

# scale buttons
for cx, letter in [(38, 'Z'), (2015.5, 'A')]:
    ov.add_patch(Circle((cx, 916), 10.5, fc='#f1f1f1', ec='none'))
    ov.text(cx, 916, letter, color='#8a8a8a', ha='center', va='center', fontsize=8)

fig.savefig('out.png', dpi=100, facecolor='white')
